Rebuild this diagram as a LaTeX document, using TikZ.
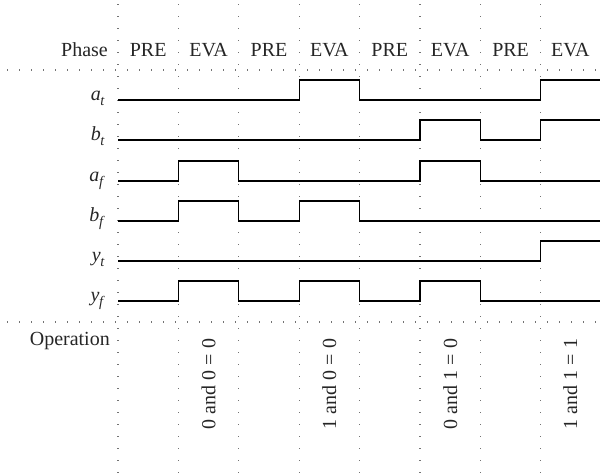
\documentclass[tikz,border=0pt]{standalone}
\usepackage{fontspec}
\setmainfont{Liberation Serif}
\newcommand\sg[2]{\textit{#1}\kern-0.3pt\raisebox{-0.28em}{\fontsize{14.5}{14.5}\selectfont\textit{#2}}}
\begin{document}
\begin{tikzpicture}[x=1pt,y=-1pt,
  dotline/.style={black!55, line width=1.1pt, dash pattern=on 1.1pt off 10.9pt},
  wave/.style={black, line width=1.1pt, line join=miter},
  txt/.style={font=\fontsize{20}{23}\selectfont, inner sep=0pt, text=black!85},
  lab/.style={txt, anchor=base east},
  phase/.style={txt, anchor=base},
  op/.style={txt, rotate=90, anchor=center}]
\useasboundingbox (0,0) rectangle (600,475);
% dotted grid
\foreach \x in {118,178.4,238.8,299.2,359.6,420,480.4,540.8}
  \draw[dotline] (\x,4) -- (\x,475);
\draw[dotline] (7,70) -- (600,70);
\draw[dotline] (7,322) -- (600,322);
% header
\node[lab] (ph) at (108,56) {Phase};
\node[phase] (p0) at (148.2,56) {PRE};
\node[phase] (p1) at (208.6,56) {EVA};
\node[phase] (p2) at (269,56) {PRE};
\node[phase] (p3) at (329.4,56) {EVA};
\node[phase] (p4) at (389.8,56) {PRE};
\node[phase] (p5) at (450.2,56) {EVA};
\node[phase] (p6) at (510.6,56) {PRE};
\node[phase] (p7) at (570.4,56) {EVA};
% signal labels
\node[lab] (lat) at (105,100) {\sg{a}{t}};
\node[lab] (lbt) at (105,140) {\sg{b}{t}};
\node[lab] (laf) at (105,181) {\sg{a}{f}};
\node[lab] (lbf) at (105,221) {\sg{b}{f}};
\node[lab] (lyt) at (105,261) {\sg{y}{t}};
\node[lab] (lyf) at (105,301) {\sg{y}{f}};
% waveforms
\draw[wave] (118,100) -- (299.2,100) -- (299.2,80) -- (359.6,80) -- (359.6,100) -- (540.8,100) -- (540.8,80) -- (600,80);
\draw[wave] (118,140) -- (420,140) -- (420,120) -- (480.4,120) -- (480.4,140) -- (540.8,140) -- (540.8,120) -- (600,120);
\draw[wave] (118,181) -- (178.4,181) -- (178.4,161) -- (238.8,161) -- (238.8,181) -- (420,181) -- (420,161) -- (480.4,161) -- (480.4,181) -- (600,181);
\draw[wave] (118,221) -- (178.4,221) -- (178.4,201) -- (238.8,201) -- (238.8,221) -- (299.2,221) -- (299.2,201) -- (359.6,201) -- (359.6,221) -- (600,221);
\draw[wave] (118,261) -- (540.8,261) -- (540.8,241) -- (600,241);
\draw[wave] (118,301) -- (178.4,301) -- (178.4,281) -- (238.8,281) -- (238.8,301) -- (299.2,301) -- (299.2,281) -- (359.6,281) -- (359.6,301) -- (420,301) -- (420,281) -- (480.4,281) -- (480.4,301) -- (600,301);
% operation
\node[lab] (opl) at (110,345) {Operation};
\node[op] (o1) at (208.6,384) {0 and 0 = 0};
\node[op] (o2) at (329.4,384) {1 and 0 = 0};
\node[op] (o3) at (450.2,384) {0 and 1 = 0};
\node[op] (o4) at (570.4,384) {1 and 1 = 1};
\end{tikzpicture}
\end{document}
